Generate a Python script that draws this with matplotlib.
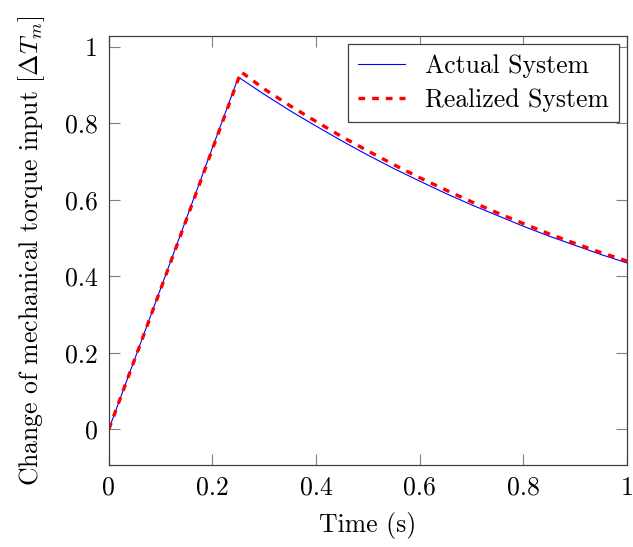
import numpy as np
import matplotlib.pyplot as plt
from matplotlib.ticker import FormatStrFormatter

plt.rcParams['font.family'] = 'cmr10'
plt.rcParams['mathtext.fontset'] = 'cm'
plt.rcParams['axes.formatter.use_mathtext'] = True

# Actual system response
t_act = [0.0, 0.25, 0.3, 0.35, 0.4, 0.45, 0.5, 0.55, 0.6, 0.65, 0.7, 0.75, 0.8, 0.85, 0.9, 0.95, 1.0]
y_act = [0.0, 0.921, 0.876, 0.833, 0.793, 0.754, 0.717, 0.682, 0.649, 0.617, 0.587, 0.559, 0.531, 0.505, 0.481, 0.457, 0.435]

# Realized system response
t_real = [0.0, 0.255, 0.3, 0.35, 0.4, 0.45, 0.5, 0.55, 0.6, 0.65, 0.7, 0.75, 0.8, 0.85, 0.9, 0.95, 1.0]
y_real = [0.0, 0.935, 0.890, 0.846, 0.805, 0.765, 0.728, 0.692, 0.658, 0.626, 0.595, 0.566, 0.538, 0.511, 0.486, 0.462, 0.440]

x_ticks = [0, 0.2, 0.4, 0.6, 0.8, 1]
y_ticks = [0, 0.2, 0.4, 0.6, 0.8, 1]

fs = 18.5

fig = plt.figure(figsize=(6.33, 5.47), dpi=100)
ax = fig.add_axes([0.172, 0.150, 0.8185, 0.784])

ax.plot(t_act, y_act, color='blue', lw=0.8, label='Actual System')
ax.plot(t_real, y_real, color='red', lw=2.4, dashes=(2.0, 2.1),
        dash_capstyle='butt', label='Realized System')

ax.set_xlim(0, 1)
ax.set_ylim(-0.0935, 1.0285)
ax.set_xticks(x_ticks)
ax.set_yticks(y_ticks)
ax.xaxis.set_major_formatter(FormatStrFormatter('%g'))
ax.yaxis.set_major_formatter(FormatStrFormatter('%g'))
ax.tick_params(direction='in', length=8, width=0.8, color='#808080',
               top=True, right=True, labelsize=fs, pad=8)
for s in ax.spines.values():
    s.set_color('#404040')
    s.set_linewidth(0.9)

ax.set_xlabel('Time (s)', fontsize=fs, labelpad=9)
ax.set_ylabel(r'Change of mechanical torque input $[\Delta T_m]$', fontsize=fs, labelpad=13)

leg = ax.legend(loc='upper right', fontsize=fs, fancybox=False, framealpha=1,
                edgecolor='#404040', borderaxespad=0.3, handlelength=1.8,
                handletextpad=0.8, borderpad=0.4, labelspacing=0.4)
leg.get_frame().set_linewidth(0.9)

plt.savefig('out.png', dpi=100)
